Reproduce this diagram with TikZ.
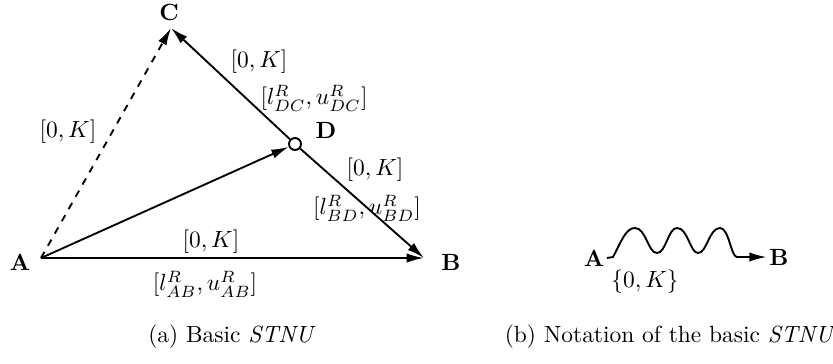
\documentclass[tikz,border=0pt]{standalone}
\usepackage{amsmath, amssymb}
\usetikzlibrary{arrows.meta}

\tikzset{
  edge/.style={thick, -{Latex[length=0.26cm, width=0.14cm]}},
  pt/.style={font=\bfseries, inner sep=1pt},
  lbl/.style={inner sep=0pt}
}

\begin{document}
\begin{tikzpicture}[x=0.015cm, y=-0.015cm]
        \useasboundingbox (0,0) rectangle (833,363);
        % --- BASIC STNU ---
        \coordinate (a) at (41,258);
        \coordinate (b) at (424,258);
        \coordinate (c) at (171,28);
        \node (d) at (295,144) [circle, draw, thick, fill=white, inner sep=0pt, minimum size=0.18cm] {};

        \node (la) at (20,262) [pt] {A};
        \node (lb) at (451,262) [pt] {B};
        \node (lc) at (169,12) [pt] {C};
        \node (ld) at (326,130) [pt] {D};

        \draw[edge, dashed] (a) -- (c);
        \draw[edge] (a) -- (d);
        \draw[edge] (d) -- (c);
        \draw[edge] (d) -- (b);
        \draw[edge] (a) -- (b);

        \node (k1) at (68,132) [lbl] {$[0,K]$};
        \node (k2) at (259,62) [lbl] {$[0,K]$};
        \node (r2) at (314,98) [lbl] {$[l^R_{DC},u^R_{DC}]$};
        \node (k3) at (375,170) [lbl] {$[0,K]$};
        \node (r3) at (367,208) [lbl] {$[l^R_{BD},u^R_{BD}]$};
        \node (k4) at (211,242) [lbl] {$[0,K]$};
        \node (r4) at (205,284) [lbl] {$[l^R_{AB},u^R_{AB}]$};

        \node (capa) at (232,337) {(a) Basic \textit{STNU}};

        % --- NOTATION ---
        \node (aw) at (594,258) [pt] {A};
        \node (bw) at (779,257) [pt] {B};
        \draw[edge] (aw.east) -- (613,257)
            .. controls (622,240) and (626,228) .. (635,228)
            .. controls (646,228) and (648,253) .. (657,253)
            .. controls (666,253) and (668,228) .. (677,228)
            .. controls (688,228) and (690,253) .. (698,253)
            .. controls (707,253) and (709,228) .. (720,228)
            .. controls (729,228) and (731,257) .. (737,257)
            -- (bw.west);
        \node (kw) at (645,282) [lbl] {$\{0,K\}$};

        \node (capb) at (670,337) {(b) Notation of the basic \textit{STNU}};
\end{tikzpicture}
\end{document}
